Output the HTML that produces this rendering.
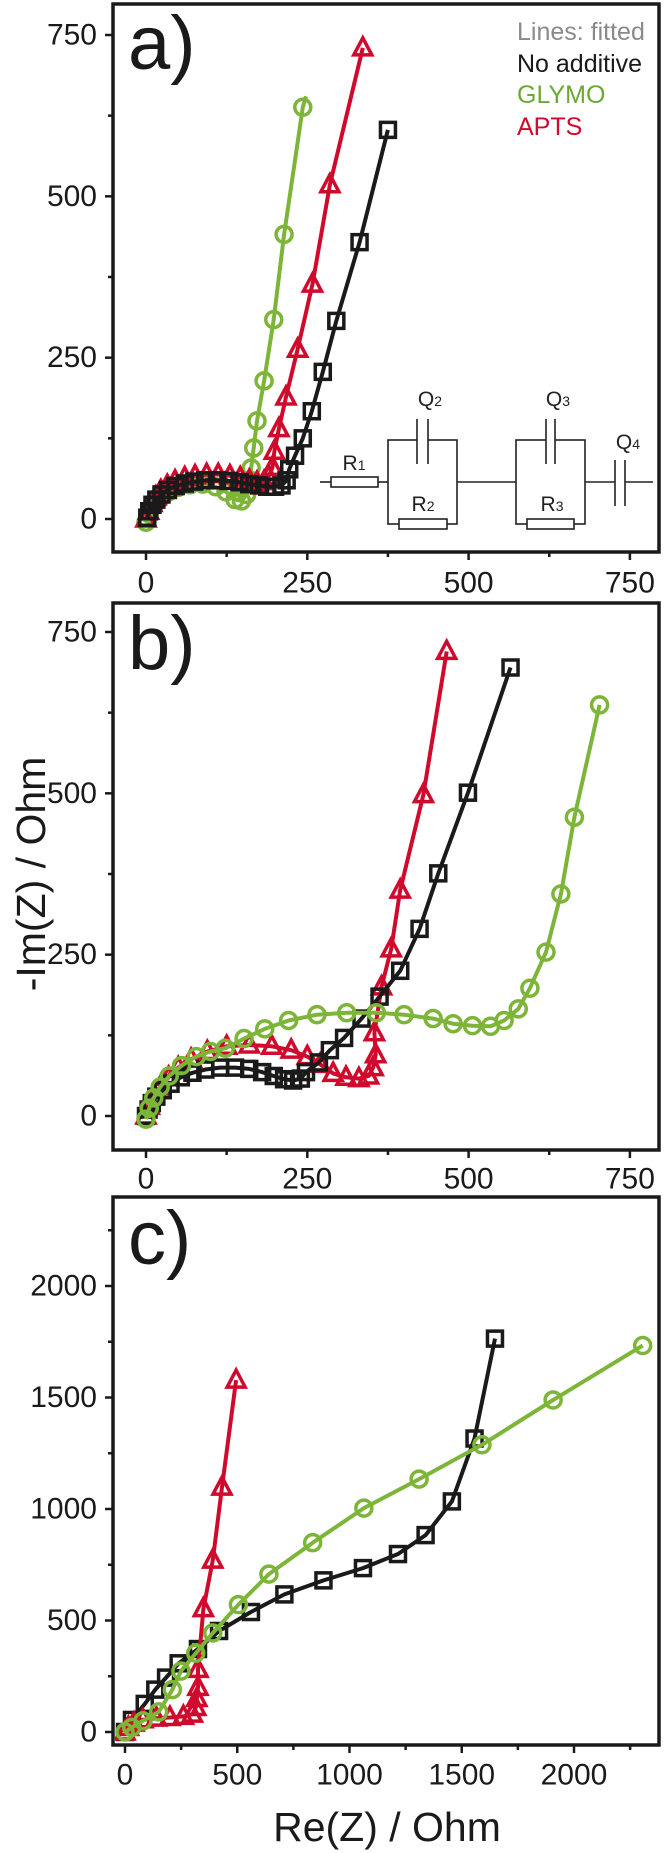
<!DOCTYPE html>
<html><head><meta charset="utf-8"><style>
html,body{margin:0;padding:0;background:#fff;}
svg{display:block;font-family:"Liberation Sans",sans-serif;}
</style></head><body>
<svg id="chart" xmlns="http://www.w3.org/2000/svg" width="665" height="1853" viewBox="0 0 665 1853">
<defs>
<clipPath id="clipA"><rect x="115" y="6" width="542" height="544"/></clipPath>
<clipPath id="clipB"><rect x="115" y="605" width="542" height="543"/></clipPath>
<clipPath id="clipC"><rect x="115" y="1199" width="542" height="544"/></clipPath>
</defs>
<g id="panels"></g>
<g font-size="25" text-anchor="start">
<text x="517" y="40" fill="#8a8a8a">Lines: fitted</text>
<text x="517" y="72" fill="#1a1a1a">No additive</text>
<text x="517" y="103" fill="#6aa936">GLYMO</text>
<text x="517" y="135" fill="#cf0a2c">APTS</text>
</g>
<g stroke="#222" stroke-width="1.6" fill="none">
<line x1="320" y1="482" x2="331" y2="482"/>
<rect x="331" y="477" width="47" height="10" fill="#fff"/>
<line x1="378" y1="482" x2="388" y2="482"/>
<rect x="388" y="440" width="69" height="84"/>
<rect x="412" y="430" width="22" height="40" fill="#fff" stroke="none"/>
<line x1="412" y1="440" x2="417" y2="440"/><line x1="428" y1="440" x2="434" y2="440"/>
<line x1="417" y1="419" x2="417" y2="464"/><line x1="428" y1="419" x2="428" y2="464"/>
<rect x="399" y="519" width="48" height="10" fill="#fff"/>
<line x1="457" y1="482" x2="516" y2="482"/>
<rect x="516" y="440" width="69" height="84"/>
<rect x="541" y="430" width="20" height="40" fill="#fff" stroke="none"/>
<line x1="541" y1="440" x2="546" y2="440"/><line x1="555" y1="440" x2="561" y2="440"/>
<line x1="546" y1="419" x2="546" y2="464"/><line x1="555" y1="419" x2="555" y2="464"/>
<rect x="527" y="519" width="47" height="10" fill="#fff"/>
<line x1="585" y1="482" x2="615" y2="482"/>
<line x1="615" y1="460" x2="615" y2="506"/><line x1="625" y1="460" x2="625" y2="506"/>
<line x1="625" y1="482" x2="653" y2="482"/>
</g>
<g font-size="21" fill="#222" text-anchor="middle">
<text x="354" y="470">R<tspan font-size="14">1</tspan></text>
<text x="423" y="511">R<tspan font-size="14">2</tspan></text>
<text x="430" y="406">Q<tspan font-size="14">2</tspan></text>
<text x="552" y="511">R<tspan font-size="14">3</tspan></text>
<text x="558" y="406">Q<tspan font-size="14">3</tspan></text>
<text x="628" y="449">Q<tspan font-size="14">4</tspan></text>
</g>
<text transform="translate(34,874) rotate(-90)" font-size="41" text-anchor="middle" dominant-baseline="middle" fill="#1a1a1a">-Im(Z) / Ohm</text>
<text x="387" y="1841" font-size="41" text-anchor="middle" fill="#1a1a1a">Re(Z) / Ohm</text>
</svg>
<script>
// ---- Panel a data (Re, -Im in Ohm) ----
const aBlackRe=[2,5,10,16,24,34,46,60,75,92,110,128,145,160,175,188,200,210,218,222,231,243,257,274,295,331,375];
const aBlackIm=[2,12,22,30,38,45,51,55,58,60,60,59,57,54,52,50,50,52,60,77,98,125,167,228,307,429,603];
const aRedRe=[0,4,9,15,23,33,45,60,76,94,112,130,146,160,172,183,190,196,199,206,217,235,258,285,336];
const aRedIm=[0,12,24,34,44,52,59,64,67,69,69,67,64,60,57,58,66,80,105,140,189,263,364,518,730];
const aGreenRe=[0,5,12,22,35,50,68,88,108,124,138,148,156,162,163,167,172,183,198,214,243,248];
const aGreenIm=[-5,8,20,32,42,49,53,54,50,42,30,28,38,60,79,110,152,214,309,441,638,655];
// ---- Panel b data ----
const bBlackRe=[0,4,9,16,26,38,54,72,92,115,138,160,180,198,214,228,240,248,268,285,307,334,362,394,424,453,499,565];
const bBlackIm=[0,10,20,30,40,50,60,67,72,75,75,73,68,62,57,55,58,68,83,102,121,151,185,225,290,376,501,695];
const bRedRe=[0,5,12,22,35,50,70,95,125,160,195,225,250,270,290,310,330,345,352,356,354,365,380,394,430,466];
const bRedIm=[0,15,30,45,60,75,88,100,108,110,108,102,92,80,66,60,58,62,75,95,129,200,259,350,498,720];
const bGreenRe=[0,5,12,22,36,55,78,100,123,152,184,221,265,311,357,400,445,476,506,534,555,577,595,620,643,664,703];
const bGreenIm=[-5,12,28,45,62,78,92,100,105,120,135,148,157,160,160,157,151,143,140,139,148,166,198,254,344,463,637];
// ---- Panel c data ----
const cBlackRe=[0,31,88,135,183,239,325,419,561,710,884,1060,1216,1339,1456,1557,1648];
const cBlackIm=[0,54,126,190,244,308,372,453,538,617,680,735,798,883,1034,1316,1764];
const cRedRe=[0,15,40,80,140,200,260,300,315,320,325,325,349,391,432,495];
const cRedIm=[0,20,40,55,62,65,70,80,110,150,200,281,553,771,1098,1578];
const cGreenRe=[0,30,80,150,211,249,315,391,505,641,836,1064,1310,1590,1907,2306];
const cGreenIm=[0,20,50,90,190,273,353,444,571,708,849,1004,1134,1288,1489,1733];
// tick labels
const abTicks=[0,250,500,750];
const abMinor=[125,375,625];
const cTicks=[0,500,1000,1500,2000];
const cMinor=[250,750,1250,1750,2250];

const NS='http://www.w3.org/2000/svg';
const BLACK='#1a1a1a',RED='#cf0a2c',GREEN='#7cb538';
const root=document.getElementById('panels');
function mk(tag,attrs,parent){const e=document.createElementNS(NS,tag);for(const k in attrs)e.setAttribute(k,attrs[k]);parent.appendChild(e);return e;}

function panel(p){
  const g=mk('g',{},root);
  
  
  const X=v=>p.x0+v*p.sx, Y=v=>p.y0-v*p.sy;
  const fb=p.top+p.h;
  p.yt.forEach(v=>{const t=mk('line',{x1:113-8,x2:113,y1:Y(v),y2:Y(v),stroke:BLACK,'stroke-width':2.5},g);
    
    const l=mk('text',{x:97,y:Y(v),'font-size':30,'text-anchor':'end','dominant-baseline':'central',fill:BLACK},g);l.textContent=v;
    });
  p.ym.forEach(v=>{const t=mk('line',{x1:113-5,x2:113,y1:Y(v),y2:Y(v),stroke:BLACK,'stroke-width':2.5},g);
    });
  p.xt.forEach(v=>{const t=mk('line',{x1:X(v),x2:X(v),y1:fb,y2:fb+8,stroke:BLACK,'stroke-width':2.5},g);
    
    const l=mk('text',{x:X(v),y:p.xl,'font-size':30,'text-anchor':'middle','dominant-baseline':'central',fill:BLACK},g);l.textContent=v;
    });
  p.xm.forEach(v=>{const t=mk('line',{x1:X(v),x2:X(v),y1:fb,y2:fb+5,stroke:BLACK,'stroke-width':2.5},g);
    });
  const plot=mk('g',{'clip-path':'url(#'+p.clip+')'},g);
  p.series.forEach(s=>{
    const sg=mk('g',{},plot);
    
    
    const pts=s.re.map((r,i)=>X(r).toFixed(1)+','+Y(s.im[i]).toFixed(1)).join(' ');
    const ln=mk('polyline',{points:pts,fill:'none',stroke:s.c,'stroke-width':4,'stroke-linejoin':'round'},sg);
    
    s.re.forEach((r,i)=>{if(s.skip&&s.skip.includes(i))return;const x=X(r),y=Y(s.im[i]);let m;
      if(s.m==='sq')m=mk('rect',{x:x-7.5,y:y-7.5,width:15,height:15,fill:'none',stroke:s.c,'stroke-width':3.5},sg);
      else if(s.m==='ci')m=mk('circle',{cx:x,cy:y,r:8,fill:'none',stroke:s.c,'stroke-width':3.5},sg);
      else m=mk('polygon',{points:`${x},${y-10} ${x-9},${y+7} ${x+9},${y+7}`,fill:'none',stroke:s.c,'stroke-width':3.5},sg);
      });
  });
  const fr=mk('rect',{x:113,y:p.top,width:546,height:p.h,fill:'none',stroke:BLACK,'stroke-width':3.5},g);
  
  const lb=mk('text',{x:128,y:p.lby,'font-size':76,fill:BLACK},g);lb.textContent=p.id+')';
  
}
panel({id:'a',top:4,h:548,x0:146,sx:161.3/250,y0:519,sy:484/750,yt:abTicks,ym:abMinor,xt:abTicks,xm:abMinor,xl:583,clip:'clipA',lby:69,
 series:[{name:'glymo',re:aGreenRe,im:aGreenIm,c:GREEN,m:'ci',skip:[21]},{name:'apts',re:aRedRe,im:aRedIm,c:RED,m:'tr'},{name:'no-additive',re:aBlackRe,im:aBlackIm,c:BLACK,m:'sq'}]});
panel({id:'b',top:603,h:547,x0:146,sx:161.3/250,y0:1116,sy:484/750,yt:abTicks,ym:abMinor,xt:abTicks,xm:abMinor,xl:1179,clip:'clipB',lby:669,
 series:[{name:'apts',re:bRedRe,im:bRedIm,c:RED,m:'tr'},{name:'no-additive',re:bBlackRe,im:bBlackIm,c:BLACK,m:'sq'},{name:'glymo',re:bGreenRe,im:bGreenIm,c:GREEN,m:'ci'}]});
panel({id:'c',top:1197,h:548,x0:125,sx:449/2000,y0:1732,sy:446/2000,yt:cTicks,ym:cMinor,xt:cTicks,xm:cMinor,xl:1775,clip:'clipC',lby:1264,
 series:[{name:'no-additive',re:cBlackRe,im:cBlackIm,c:BLACK,m:'sq'},{name:'apts',re:cRedRe,im:cRedIm,c:RED,m:'tr'},{name:'glymo',re:cGreenRe,im:cGreenIm,c:GREEN,m:'ci'}]});
</script>
</body></html>
